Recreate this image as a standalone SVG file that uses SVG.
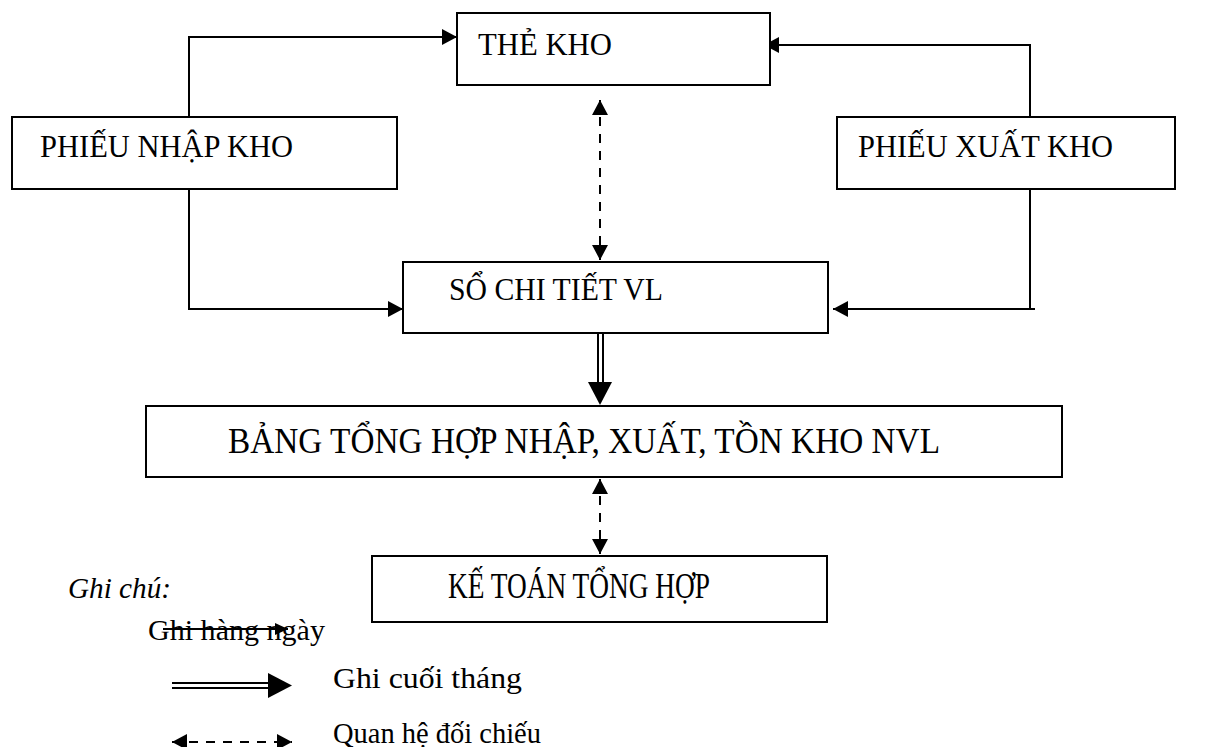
<svg xmlns="http://www.w3.org/2000/svg" width="1212" height="747" viewBox="0 0 1212 747">
  <style>
    .box { fill: #ffffff; stroke: #000000; stroke-width: 2; }
    .lbl { font-family: "Liberation Serif", "Times New Roman", serif; font-size: 31px; fill: #000000; }
    .tall { font-size: 35px; }
    .note { font-family: "Liberation Serif", "Times New Roman", serif; font-size: 30px; fill: #000000; }
    .it { font-style: italic; }
    .wire { fill: none; stroke: #000000; stroke-width: 2; }
    .dash { stroke-dasharray: 9 8; }
  </style>
  <defs>
    <marker id="arrow" markerUnits="userSpaceOnUse" markerWidth="16" markerHeight="16" refX="15" refY="8" orient="auto-start-reverse">
      <path d="M0,0 L15,8 L0,16 z" fill="#000000"/>
    </marker>
    <marker id="arrowSmall" markerUnits="userSpaceOnUse" markerWidth="13" markerHeight="12" refX="13" refY="6" orient="auto">
      <path d="M0,0 L13,6 L0,12 z" fill="#000000"/>
    </marker>
  </defs>

  <!-- connectors -->
  <g id="connectors">
    <path class="wire" d="M189,117 V37 H457" marker-end="url(#arrow)"/>
    <path class="wire" d="M1030,117 V45 H764" marker-end="url(#arrow)"/>
    <path class="wire" d="M189,189 V309 H403" marker-end="url(#arrow)"/>
    <path class="wire" d="M1030,189 V309 M1035,309 H833" marker-end="url(#arrow)"/>
    <path class="wire dash" d="M600,100 V260" marker-start="url(#arrow)" marker-end="url(#arrow)"/>
    <g id="month-end">
      <line class="wire" x1="598" y1="333" x2="598" y2="384"/>
      <line class="wire" x1="603" y1="333" x2="603" y2="384"/>
      <polygon points="588,382 612,382 600,405" fill="#000000"/>
    </g>
    <path class="wire dash" d="M600,479 V554" marker-start="url(#arrow)" marker-end="url(#arrow)"/>
  </g>

  <!-- nodes -->
  <g id="the-kho">
    <rect class="box" x="457" y="13" width="313" height="72"/>
    <text class="lbl" x="478" y="55" textLength="134" lengthAdjust="spacingAndGlyphs">THẺ KHO</text>
  </g>
  <g id="phieu-nhap-kho">
    <rect class="box" x="12" y="117" width="385" height="72"/>
    <text class="lbl" x="40" y="157" textLength="253" lengthAdjust="spacingAndGlyphs">PHIẾU NHẬP KHO</text>
  </g>
  <g id="phieu-xuat-kho">
    <rect class="box" x="837" y="117" width="338" height="72"/>
    <text class="lbl" x="858" y="157" textLength="255" lengthAdjust="spacingAndGlyphs">PHIẾU XUẤT KHO</text>
  </g>
  <g id="so-chi-tiet">
    <rect class="box" x="403" y="262" width="425" height="71"/>
    <text class="lbl" x="449" y="300" textLength="214" lengthAdjust="spacingAndGlyphs">SỔ CHI TIẾT VL</text>
  </g>
  <g id="bang-tong-hop">
    <rect class="box" x="146" y="406" width="916" height="71"/>
    <text class="lbl tall" x="228" y="453" textLength="712" lengthAdjust="spacingAndGlyphs">BẢNG TỔNG HỢP NHẬP, XUẤT, TỒN KHO NVL</text>
  </g>
  <g id="ke-toan-tong-hop">
    <rect class="box" x="372" y="556" width="455" height="66"/>
    <text class="lbl tall" x="448" y="598" textLength="262" lengthAdjust="spacingAndGlyphs">KẾ TOÁN TỔNG HỢP</text>
  </g>

  <!-- legend -->
  <g id="legend">
    <text class="note it" x="68" y="598" textLength="103" lengthAdjust="spacingAndGlyphs">Ghi chú:</text>
    <text class="note" x="148" y="640" textLength="177" lengthAdjust="spacingAndGlyphs">Ghi hàng ngày</text>
    <path class="wire" d="M163,629 H288" marker-end="url(#arrowSmall)"/>
    <line class="wire" x1="172" y1="683" x2="270" y2="683"/>
    <line class="wire" x1="172" y1="688" x2="270" y2="688"/>
    <polygon points="268,673 292,685.5 268,698" fill="#000000"/>
    <text class="note" x="333" y="688" textLength="189" lengthAdjust="spacingAndGlyphs">Ghi cuối tháng</text>
    <path class="wire dash" d="M172,742 H292" marker-start="url(#arrow)" marker-end="url(#arrow)"/>
    <text class="note" x="333" y="743" textLength="208" lengthAdjust="spacingAndGlyphs">Quan hệ đối chiếu</text>
  </g>
</svg>
